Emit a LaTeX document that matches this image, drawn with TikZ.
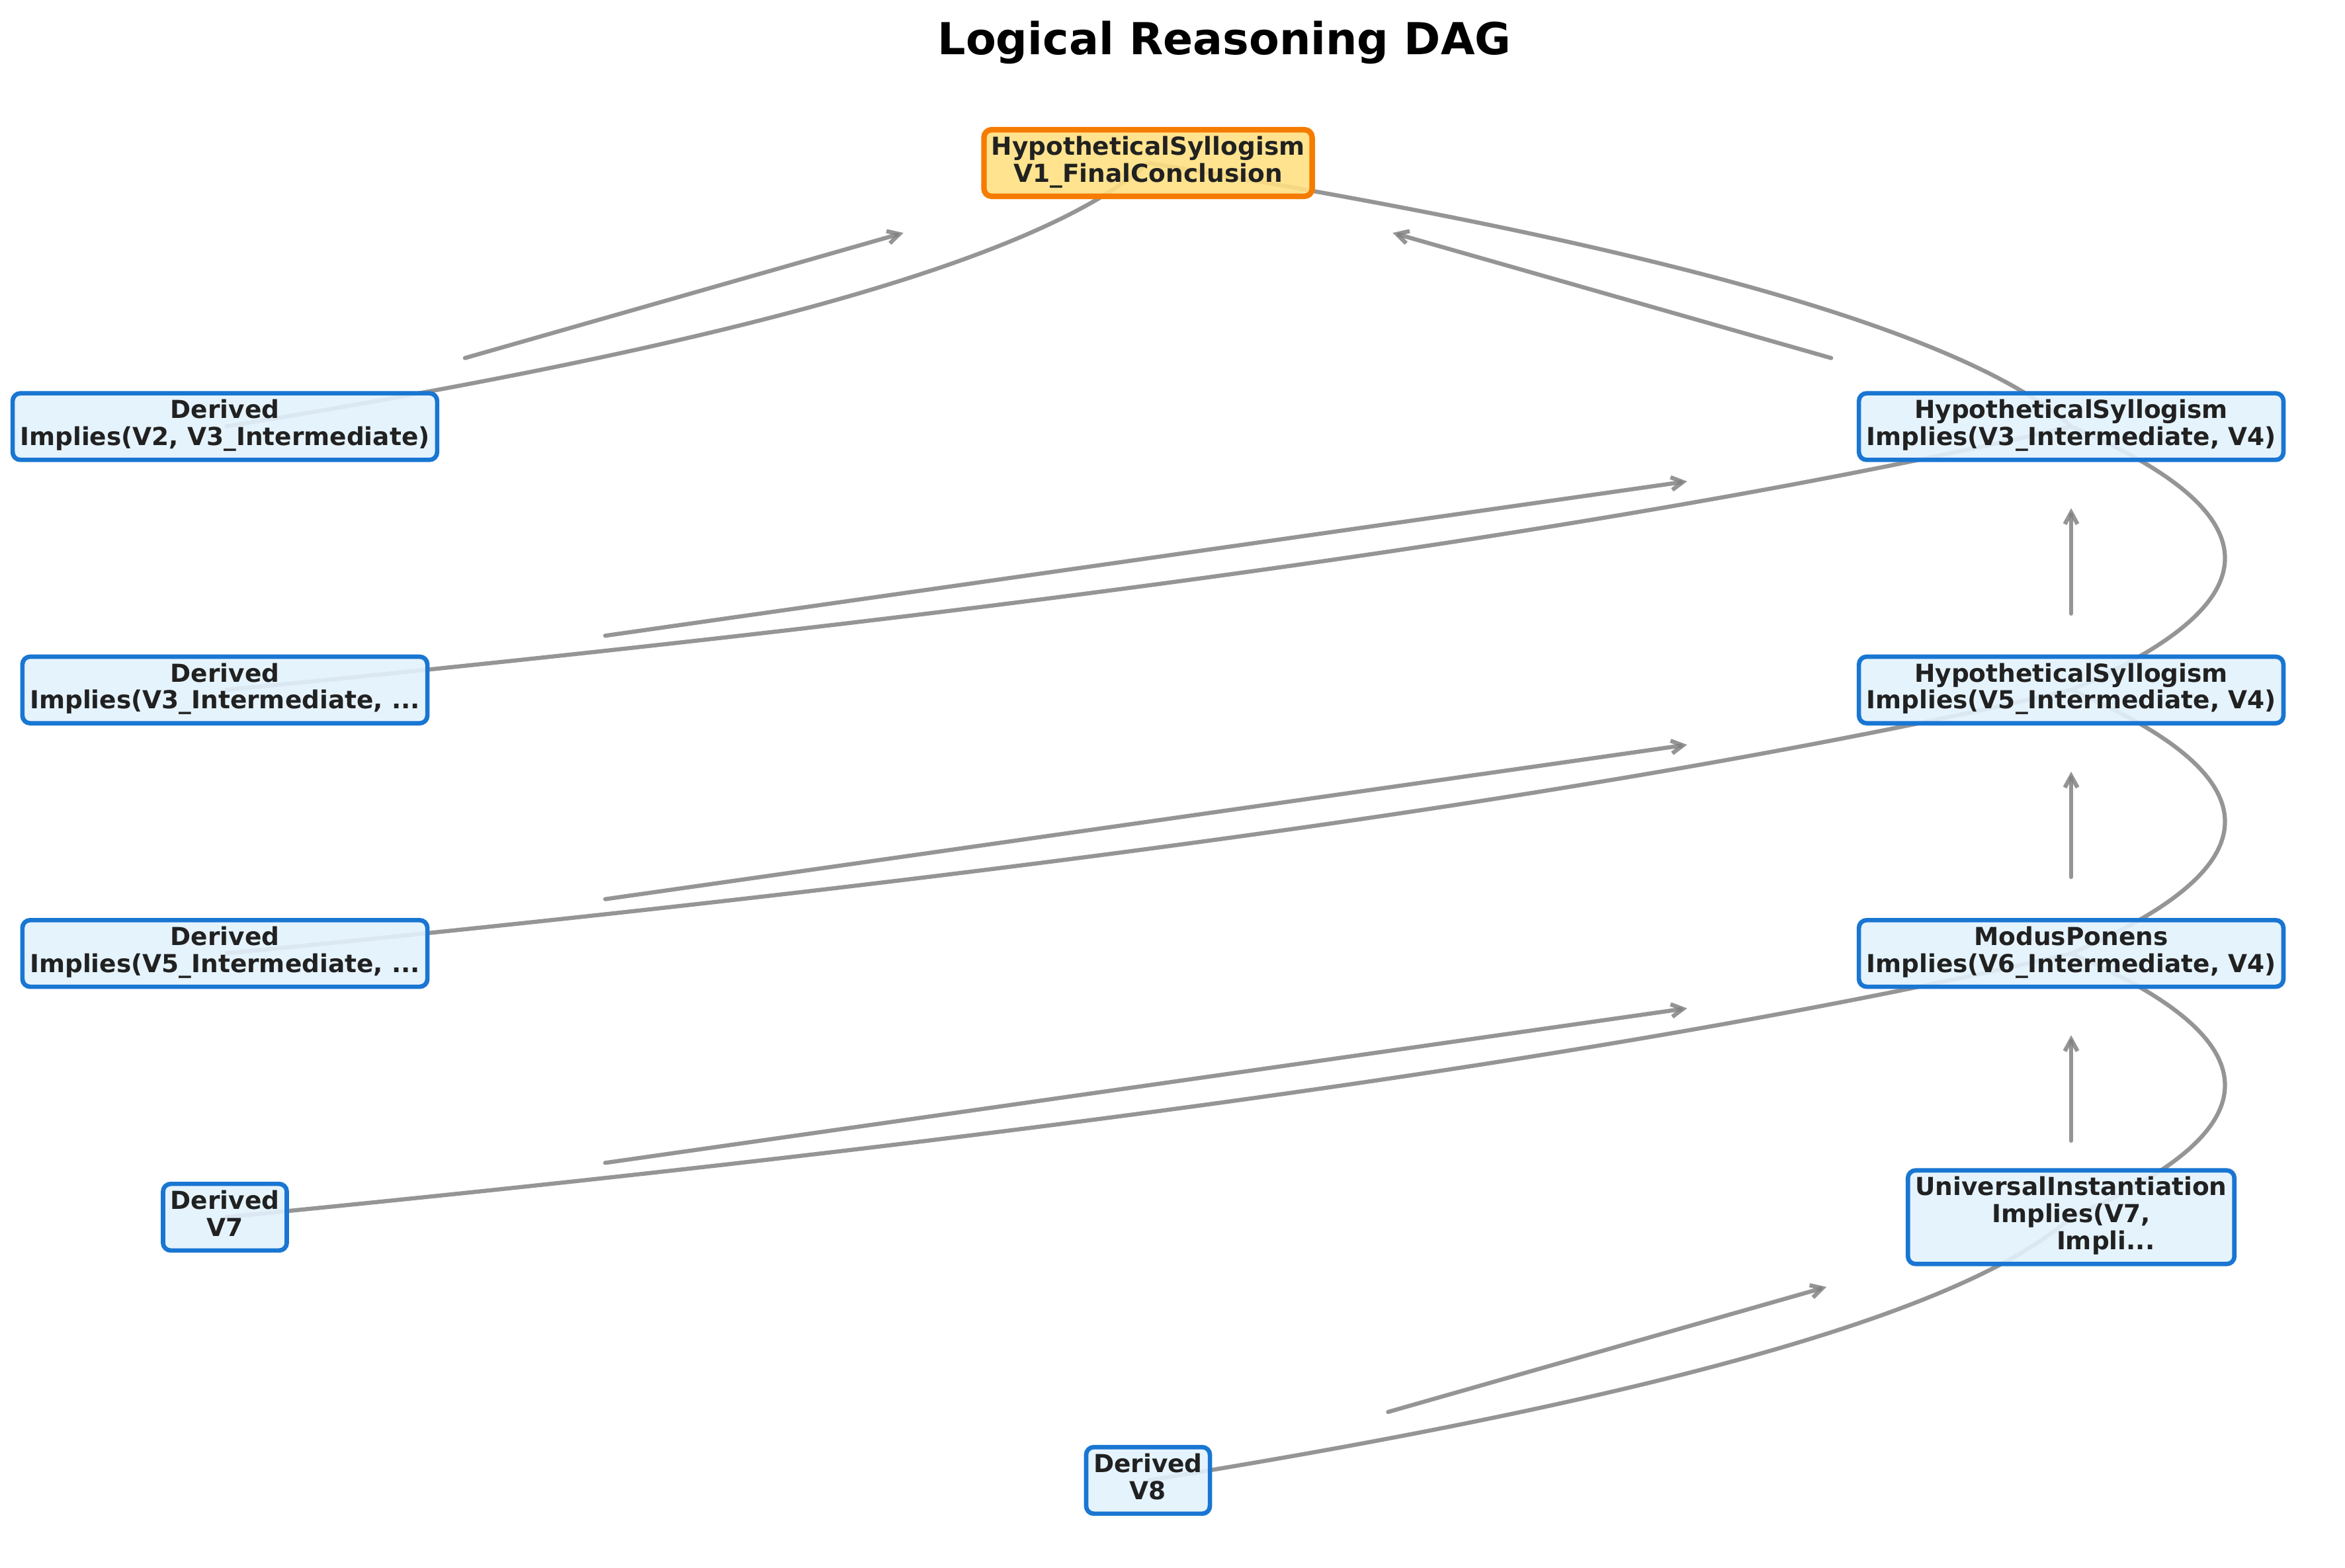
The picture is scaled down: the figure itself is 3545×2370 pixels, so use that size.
\documentclass[tikz,border=0pt]{standalone}
\usepackage{fontspec}
\setmainfont{DejaVu Sans}
\usetikzlibrary{arrows.meta}
\usetikzlibrary{calc,backgrounds}
\definecolor{boxblue}{HTML}{1976D2}
\definecolor{boxfill}{HTML}{E3F2FD}
\definecolor{goalorange}{HTML}{F57C00}
\definecolor{goalfill}{HTML}{FFE082}
\definecolor{labelgray}{HTML}{212121}
\tikzstyle{rulebox}=[draw=boxblue,fill=boxfill,fill opacity=0.9,text opacity=1,line width=1.6pt,rounded corners=2.8pt,align=center,text=labelgray,font=\fontsize{9}{9.8}\selectfont\bfseries,inner xsep=2.7pt,inner ysep=2.3pt,execute at begin node=\strut,execute at end node=\strut]
\tikzstyle{goalbox}=[rulebox,draw=goalorange,fill=goalfill,line width=2pt]
\tikzstyle{edgeline}=[draw=gray,draw opacity=0.83,line width=1.5pt]
\tikzstyle{flow}=[edgeline,line cap=round,-{Straight Barb[length=4.2pt,width=4.6pt]}]
\tikzstyle{titletext}=[font=\fontsize{16}{19}\selectfont\bfseries,text=black]
\begin{document}
\begin{tikzpicture}[x=0.24pt,y=-0.24pt]

  \node[titletext,anchor=base] (title) at (1851,82) {Logical Reasoning DAG};

  \node[goalbox] (final) at (1735.5,246.5) {HypotheticalSyllogism\\V1\_FinalConclusion};

    \foreach \pos/\name/\txt in {{(340,645)/dv2/{Derived\\Implies(V2, V3\_Intermediate)}},
        {(3131,645)/hs3/{HypotheticalSyllogism\\Implies(V3\_Intermediate, V4)}},
        {(340,1043.3)/dv3/{Derived\\Implies(V3\_Intermediate, ...}},
        {(3131,1043.3)/hs5/{HypotheticalSyllogism\\Implies(V5\_Intermediate, V4)}},
        {(340,1441.7)/dv5/{Derived\\Implies(V5\_Intermediate, ...}},
        {(3131,1441.7)/mp6/{ModusPonens\\Implies(V6\_Intermediate, V4)}},
        {(340,1840.5)/dv7/{Derived\\V7}},
        {(3131,1840.5)/ui7/{UniversalInstantiation\\Implies(V7,\\\hspace*{2.78em}Impli...}},
        {(1735.5,2238.5)/dv8/{Derived\\V8}}}
        \node[rulebox] (\name) at \pos {\txt};

\begin{scope}[on background layer]
   \fill[white] (0,0) rectangle (3545,2370);
    \foreach \source/\dest/\bend/\tstart/\tend in {dv2/final/8/0.26/0.735, hs3/final/-8/0.26/0.735, dv3/hs3/12/0.206/0.792, hs5/hs3/0/0.29/0.69, dv5/hs5/12/0.206/0.792, mp6/hs5/0/0.29/0.69, dv7/mp6/12/0.206/0.792, ui7/mp6/0/0.29/0.69, dv8/ui7/8/0.26/0.735}
    {
        \draw[edgeline] (\source.center) .. controls ($(\source.center)!1/3!(\dest.center)+(310,\bend)$) and ($(\dest.center)!1/3!(\source.center)+(310,\bend)$) .. (\dest.center);
        \draw[flow] ($(\source.center)!\tstart!(\dest.center)$) -- ($(\source.center)!\tend!(\dest.center)$);
    }
\end{scope}

\end{tikzpicture}
\end{document}
